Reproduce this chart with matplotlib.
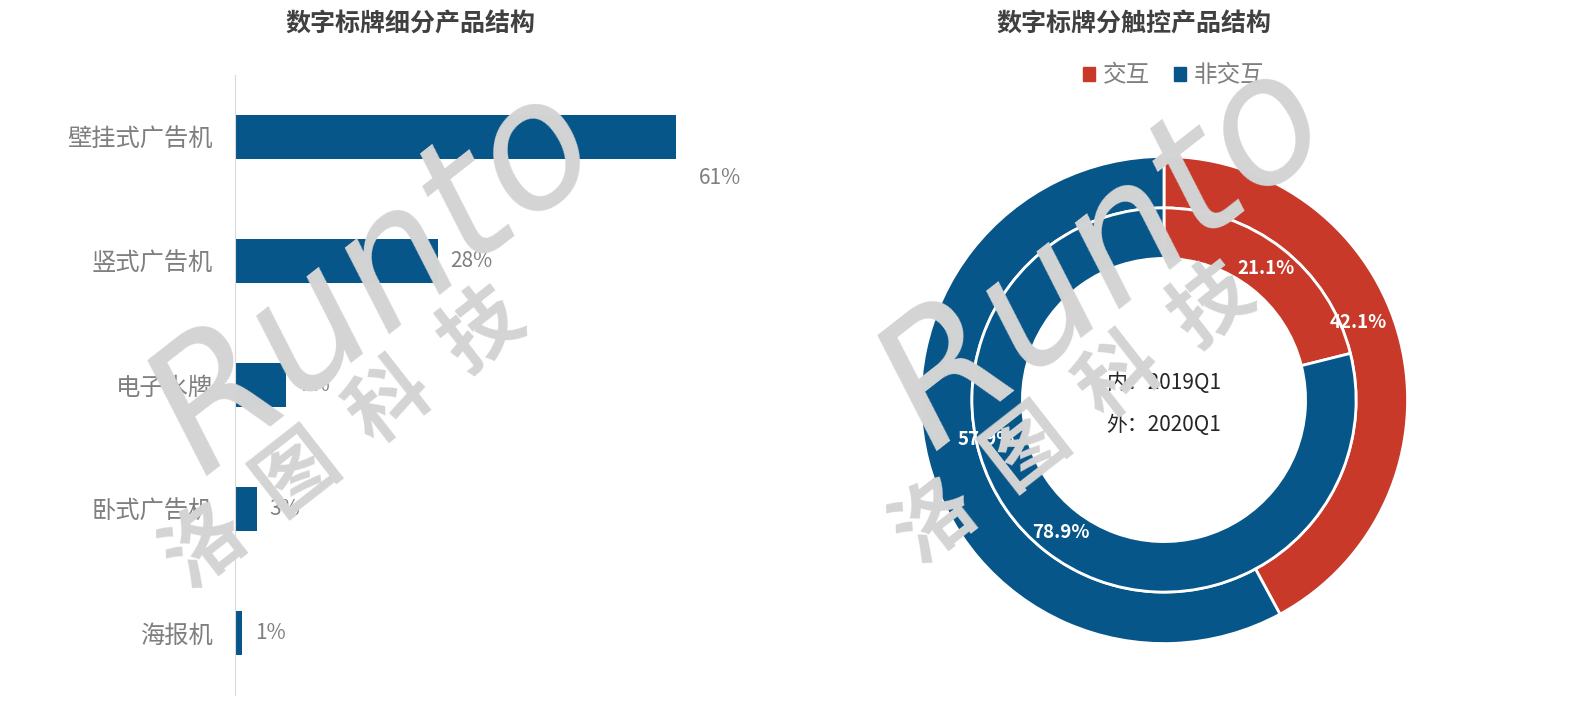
import numpy as np
import matplotlib.pyplot as plt

plt.rcParams['font.family'] = ['Noto Sans CJK SC', 'DejaVu Sans']

# left chart data
categories = ['壁挂式广告机', '竖式广告机', '电子水牌', '卧式广告机', '海报机']
shares = [61, 28, 7, 3, 1]

# right chart data
ring_labels = ['交互', '非交互']
inner_2019q1 = [21.1, 78.9]
outer_2020q1 = [42.1, 57.9]

blue = '#07568A'
red = '#C8392A'
grey_txt = '#7f7f7f'

fig = plt.figure(figsize=(15.74, 7.21), dpi=100)

# ---- bar chart
ax = fig.add_axes([235 / 1574, 1 - 695 / 721, 510 / 1574, 620 / 721])
y = np.arange(len(categories))
ax.barh(y, shares, height=0.36, color=blue)
ax.set_ylim(len(categories) - 0.5, -0.5)
ax.set_xlim(0, 70.5)
ax.set_yticks(y)
ax.set_yticklabels(categories, fontsize=17.5, color=grey_txt)
ax.tick_params(axis='y', length=0, pad=16)
ax.set_xticks([])
for s in ['top', 'right', 'bottom']:
    ax.spines[s].set_visible(False)
ax.spines['left'].set_color('#d9d9d9')
for i, v in enumerate(shares):
    if v == max(shares):
        ax.text(v + 6, i + 0.33, f'{v}%', va='center', ha='center', fontsize=15, color=grey_txt)
    else:
        ax.text(v + 1.8, i, f'{v}%', va='center', ha='left', fontsize=15, color=grey_txt)
fig.text(410 / 1574, 1 - 25 / 721, '数字标牌细分产品结构', ha='center', va='center',
         fontsize=18, fontweight='bold', color='#404040')

# ---- nested donut
cx, cy, R = 1164, 400, 246
ax2 = fig.add_axes([(cx - R) / 1574, 1 - (cy + R) / 721, 2 * R / 1574, 2 * R / 721])
ax2.set_aspect('equal')
colors = [red, blue]
w_out = (246 - 194) / 246
w_in = (194 - 143) / 246
ax2.pie(outer_2020q1, radius=1, startangle=90, counterclock=False, colors=colors,
        wedgeprops=dict(width=w_out, edgecolor='white', linewidth=2))
ax2.pie(inner_2019q1, radius=194 / 246, startangle=90, counterclock=False, colors=colors,
        wedgeprops=dict(width=w_in, edgecolor='white', linewidth=2))


def ring_labels_at(vals, radii, shift):
    start = 90.0
    for v, r, sh in zip(vals, radii, shift):
        mid = np.deg2rad(start - v / 100 * 360 / 2 + sh)
        ax2.text(r * np.cos(mid), r * np.sin(mid), f'{v}%', ha='center', va='center',
                 color='white', fontsize=13.5, fontweight='bold')
        start -= v / 100 * 360


ring_labels_at(outer_2020q1, [0.857, 0.75], [7.5, -1.6])
ring_labels_at(inner_2019q1, [0.683, 0.69], [0, 0])
ax2.text(0, 17 / 246, '内：2019Q1', ha='center', va='center', fontsize=15, color='#262626')
ax2.text(0, -25 / 246, '外：2020Q1', ha='center', va='center', fontsize=15, color='#262626')
ax2.set_xlim(-1.01, 1.01)
ax2.set_ylim(-1.01, 1.01)

fig.text(1134 / 1574, 1 - 25 / 721, '数字标牌分触控产品结构', ha='center', va='center',
         fontsize=18, fontweight='bold', color='#404040')

# legend
handles = [plt.Rectangle((0, 0), 1, 1, color=c) for c in colors]
fig.legend(handles, ring_labels, loc='center', bbox_to_anchor=(1174 / 1574, 1 - 76 / 721),
           ncol=2, frameon=False, fontsize=17, labelcolor=grey_txt, handlelength=0.5,
           handleheight=0.5, handletextpad=0.35, columnspacing=1.0)

# watermark
wm = '#d4d4d4'
for x0, y0 in [(375, 280), (1105, 255)]:
    fig.text(x0 / 1574, 1 - y0 / 721, 'Runto', ha='center', va='center', rotation=38,
             fontsize=125, style='italic', color=wm, family='DejaVu Sans', zorder=10)
    fig.text((x0 - 30) / 1574, 1 - (y0 + 160) / 721, '洛  图  科  技', ha='center', va='center',
             rotation=38, fontsize=58, fontweight='bold', color=wm, zorder=10)

fig.savefig('out.png', dpi=100)
